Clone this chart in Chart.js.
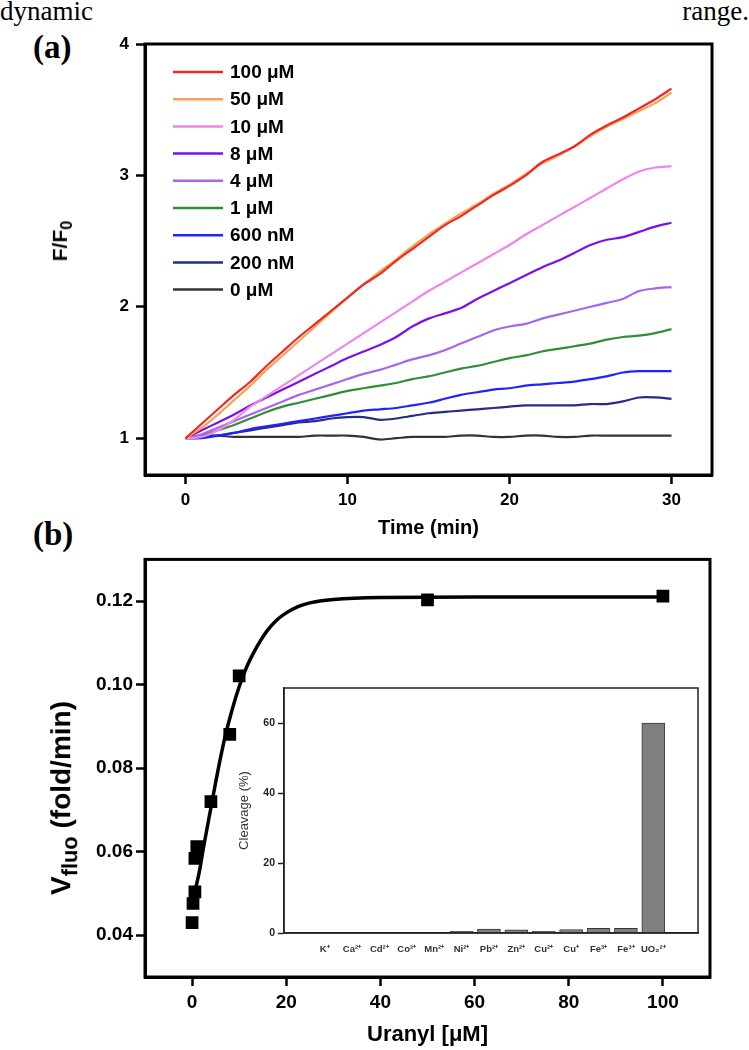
<!DOCTYPE html>
<html>
<head>
<meta charset="utf-8">
<script src="https://cdn.jsdelivr.net/npm/chart.js@4.4.1/dist/chart.umd.min.js"></script>
<style>
  body { margin: 0; background: #fff; width: 749px; height: 1050px; position: relative; overflow: hidden; font-family: Arial, 'Liberation Sans', sans-serif; }
  canvas { position: absolute; }
  #topline { position: absolute; left: 0; top: -4px; width: 749px; display: flex; justify-content: space-between; font: 27px 'Liberation Serif', 'Times New Roman', serif; }
  .panel { position: absolute; font: bold 33px 'Liberation Serif', 'Times New Roman', serif; }
  .ytitle { position: absolute; font-weight: bold; white-space: nowrap; transform: translate(-50%, -50%) rotate(-90deg); }
  .ytitle sub { font-size: 78%; }
</style>
</head>
<body>
<div id="topline"><span>dynamic</span><span>range.</span></div>
<div class="panel" style="left:33px;top:29px">(a)</div>
<div class="panel" style="left:33px;top:516px">(b)</div>

<canvas id="chartA" width="749" height="545" style="left:0;top:0"></canvas>
<canvas id="chartB" width="749" height="505" style="left:0;top:545px"></canvas>
<canvas id="inset" width="510" height="290" style="left:200px;top:675px"></canvas>

<div class="ytitle" style="left:62px;top:241px;font-size:21px">F/F<sub>0</sub></div>
<div class="ytitle" style="left:64px;top:798px;font-size:28px">V<sub>fluo</sub> (fold/min)</div>

<script>
// ---- panel (a): F/F0 vs time ----
const timeMin = [0,1,2,3,4,5,6,7,8,9,10,11,12,13,14,15,16,17,18,19,20,21,22,23,24,25,26,27,28,29,30];
const concLabels = ['100 μM', '50 μM', '10 μM', '8 μM', '4 μM', '1 μM', '600 nM', '200 nM', '0 μM'];
const f100  = [1.00,1.11,1.22,1.33,1.43,1.55,1.66,1.77,1.87,1.97,2.07,2.17,2.25,2.35,2.44,2.53,2.62,2.69,2.77,2.85,2.92,3.00,3.10,3.16,3.22,3.31,3.38,3.44,3.51,3.58,3.66];
const f50   = [1.00,1.08,1.18,1.29,1.40,1.52,1.63,1.74,1.85,1.96,2.07,2.17,2.27,2.36,2.46,2.55,2.63,2.71,2.78,2.86,2.93,3.01,3.09,3.15,3.22,3.30,3.37,3.43,3.49,3.55,3.63];
const f10   = [1.00,1.01,1.06,1.14,1.24,1.32,1.40,1.48,1.56,1.64,1.72,1.80,1.88,1.96,2.04,2.12,2.19,2.26,2.33,2.40,2.47,2.55,2.62,2.69,2.76,2.83,2.90,2.97,3.03,3.06,3.07];
const f8    = [1.00,1.06,1.12,1.18,1.25,1.31,1.37,1.43,1.49,1.55,1.61,1.66,1.71,1.77,1.85,1.91,1.95,1.99,2.06,2.12,2.18,2.24,2.30,2.35,2.41,2.47,2.51,2.53,2.57,2.61,2.64];
const f4    = [1.00,1.03,1.08,1.13,1.18,1.23,1.28,1.33,1.37,1.41,1.45,1.49,1.52,1.56,1.60,1.63,1.67,1.72,1.77,1.82,1.85,1.87,1.91,1.94,1.97,2.00,2.03,2.06,2.12,2.14,2.15];
const f1    = [1.00,1.02,1.06,1.10,1.15,1.20,1.24,1.27,1.30,1.33,1.36,1.38,1.40,1.42,1.45,1.47,1.50,1.53,1.55,1.58,1.61,1.63,1.66,1.68,1.70,1.72,1.75,1.77,1.78,1.80,1.83];
const f600n = [1.00,1.00,1.02,1.04,1.07,1.09,1.11,1.13,1.15,1.17,1.19,1.21,1.22,1.23,1.25,1.27,1.30,1.33,1.35,1.37,1.38,1.40,1.41,1.42,1.43,1.45,1.47,1.50,1.51,1.51,1.51];
const f200n = [1.00,1.01,1.02,1.04,1.06,1.08,1.10,1.12,1.13,1.15,1.16,1.16,1.14,1.15,1.17,1.19,1.20,1.21,1.22,1.23,1.24,1.25,1.25,1.25,1.25,1.26,1.26,1.28,1.31,1.31,1.30];
const f0    = [1.00,1.02,1.02,1.01,1.01,1.01,1.01,1.01,1.02,1.02,1.02,1.01,0.99,1.00,1.01,1.01,1.01,1.02,1.02,1.01,1.01,1.02,1.02,1.01,1.01,1.02,1.02,1.02,1.02,1.02,1.02];
const timeTicks = [0, 10, 20, 30];
const ratioTicks = [1, 2, 3, 4];

// ---- panel (b): initial rate vs uranyl ----
const uranylConc = [0, 0.2, 0.6, 0.6, 1, 4, 8, 10, 50, 100];
const vFluo      = [0.043, 0.0476, 0.0504, 0.0584, 0.0612, 0.072, 0.0881, 0.1021, 0.1203, 0.1212];
const fitConc = [0.6, 1.5, 2.5, 4, 5.5, 7, 8.5, 10, 11.5, 13, 14.5, 16, 18, 20, 22.5, 25, 30, 40, 60, 100];
const fitV    = [0.0505, 0.055, 0.0615, 0.0705, 0.0795, 0.0875, 0.094, 0.0995, 0.104, 0.1075, 0.1105, 0.113, 0.1155, 0.1172, 0.1187, 0.1196, 0.1204, 0.1209, 0.121, 0.121];
const uranylTicks = [0, 20, 40, 60, 80, 100];
const vTicks = [0.04, 0.06, 0.08, 0.10, 0.12];

// ---- inset: selectivity ----
const ions = ['K⁺', 'Ca²⁺', 'Cd²⁺', 'Co²⁺', 'Mn²⁺', 'Ni²⁺', 'Pb²⁺', 'Zn²⁺', 'Cu²⁺', 'Cu⁺', 'Fe³⁺', 'Fe³⁺', 'UO₂²⁺'];
const cleavage = [0, 0, 0, 0, 0, 0.5, 1.1, 0.9, 0.5, 1.0, 1.3, 1.3, 60];
const cleavageTicks = [0, 20, 40, 60];

Chart.defaults.font.family = "Arial, 'Liberation Sans', sans-serif";
Chart.defaults.color = '#000';

const frame = {
  id: 'frame',
  afterDraw(chart, args, opts) {
    const { ctx, chartArea: a } = chart;
    ctx.save();
    ctx.strokeStyle = opts.color;
    ctx.lineWidth = opts.width;
    ctx.strokeRect(a.left, a.top, a.right - a.left, a.bottom - a.top);
    ctx.restore();
  }
};

const lineLegend = {
  id: 'lineLegend',
  afterDatasetsDraw(chart, args, o) {
    const { ctx, chartArea: a } = chart;
    ctx.save();
    ctx.font = o.font;
    ctx.textBaseline = 'middle';
    chart.data.datasets.forEach((ds, i) => {
      const y = a.top + o.top + i * o.gap;
      ctx.strokeStyle = ds.borderColor;
      ctx.lineWidth = 2.5;
      ctx.beginPath();
      ctx.moveTo(a.left + o.x0, y);
      ctx.lineTo(a.left + o.x1, y);
      ctx.stroke();
      ctx.fillStyle = '#000';
      ctx.fillText(ds.label, a.left + o.textX, y + 1);
    });
    ctx.restore();
  }
};

function fixedTicks(list) {
  return scale => { scale.ticks = list.map(v => ({ value: v })); };
}

const axisGrid = { display: true, drawOnChartArea: false, drawTicks: true, tickLength: 9, tickWidth: 2.5, tickColor: '#000' };
const axisBorder = { display: true, width: 3, color: '#000' };

// panel (a)
const seriesA = [f100, f50, f10, f8, f4, f1, f600n, f200n, f0];
const colorsA = ['#ee2a24', '#f5a55a', '#f084ee', '#7a10f0', '#a865ee', '#2f8f35', '#2222ff', '#262c86', '#333333'];

new Chart(document.getElementById('chartA'), {
  type: 'line',
  data: {
    datasets: seriesA.map((s, i) => ({
      label: concLabels[i],
      data: timeMin.map((t, j) => ({ x: t, y: s[j] })),
      borderColor: colorsA[i],
      borderWidth: 2.2,
      pointRadius: 0,
      tension: 0.3,
      fill: false
    }))
  },
  options: {
    responsive: false,
    animation: false,
    layout: { padding: { left: 0, top: 44, right: 37, bottom: 0 } },
    plugins: {
      legend: { display: false },
      tooltip: { enabled: false },
      frame: { color: '#000', width: 3 },
      lineLegend: { font: "bold 19px Arial, 'Liberation Sans', sans-serif", top: 28, gap: 27.2, x0: 28, x1: 78, textX: 85 }
    },
    scales: {
      x: {
        type: 'linear', min: -2.5, max: 32.5,
        afterBuildTicks: fixedTicks(timeTicks),
        afterFit: s => { s.height = 70; },
        grid: axisGrid, border: axisBorder,
        ticks: { font: { size: 17, weight: 'bold' }, padding: 6 },
        title: { display: true, text: 'Time (min)', font: { size: 20, weight: 'bold' }, padding: { top: 0, bottom: 5 } }
      },
      y: {
        type: 'linear', min: 0.72, max: 4,
        afterBuildTicks: fixedTicks(ratioTicks),
        afterFit: s => { s.width = 145; },
        grid: axisGrid, border: axisBorder,
        ticks: { font: { size: 17, weight: 'bold' }, padding: 7 }
      }
    }
  },
  plugins: [frame, lineLegend]
});

// panel (b)
new Chart(document.getElementById('chartB'), {
  type: 'scatter',
  data: {
    datasets: [
      {
        label: 'Vfluo',
        data: uranylConc.map((c, i) => ({ x: c, y: vFluo[i] })),
        pointStyle: 'rect',
        pointRadius: 9,
        backgroundColor: '#000',
        borderColor: '#000',
        borderWidth: 0
      },
      {
        label: 'fit',
        data: fitConc.map((c, i) => ({ x: c, y: fitV[i] })),
        showLine: true,
        borderColor: '#000',
        borderWidth: 3.5,
        pointRadius: 0,
        cubicInterpolationMode: 'monotone'
      }
    ]
  },
  options: {
    responsive: false,
    animation: false,
    layout: { padding: { left: 0, top: 14, right: 39, bottom: 0 } },
    plugins: {
      legend: { display: false },
      tooltip: { enabled: false },
      frame: { color: '#000', width: 3 }
    },
    scales: {
      x: {
        type: 'linear', min: -10, max: 110,
        afterBuildTicks: fixedTicks(uranylTicks),
        afterFit: s => { s.height = 73; },
        grid: axisGrid, border: axisBorder,
        ticks: { font: { size: 19, weight: 'bold' }, padding: 5 },
        title: { display: true, text: 'Uranyl [μM]', font: { size: 22, weight: 'bold' }, padding: { top: 0, bottom: 2 } }
      },
      y: {
        type: 'linear', min: 0.03, max: 0.13,
        afterBuildTicks: fixedTicks(vTicks),
        afterFit: s => { s.width = 145; },
        grid: axisGrid, border: axisBorder,
        ticks: { font: { size: 19, weight: 'bold' }, padding: 3, callback: v => v.toFixed(2) }
      }
    }
  },
  plugins: [frame]
});

// inset
new Chart(document.getElementById('inset'), {
  type: 'bar',
  data: {
    datasets: [{
      label: 'Cleavage',
      data: ions.map((n, i) => ({ x: i, y: cleavage[i] })),
      backgroundColor: '#7f7f7f',
      borderColor: '#3a3a3a',
      borderWidth: 1,
      barThickness: 23
    }]
  },
  options: {
    responsive: false,
    animation: false,
    layout: { padding: { left: 0, top: 13, right: 12, bottom: 0 } },
    plugins: {
      legend: { display: false },
      tooltip: { enabled: false },
      frame: { color: '#222', width: 1.5 }
    },
    scales: {
      x: {
        type: 'linear', min: -0.9, max: 13.05,
        afterBuildTicks: fixedTicks(ions.map((n, i) => i)),
        afterFit: s => { s.height = 32; },
        grid: { display: false },
        border: { display: true, width: 1.5, color: '#222' },
        ticks: { font: { size: 9.5, weight: 'bold' }, color: '#333', padding: 3, autoSkip: false, maxRotation: 0, callback: v => ions[v] }
      },
      y: {
        type: 'linear', min: 0, max: 70,
        afterBuildTicks: fixedTicks(cleavageTicks),
        afterFit: s => { s.width = 84; },
        grid: { display: true, drawOnChartArea: false, drawTicks: true, tickLength: 6, tickWidth: 1.5, tickColor: '#222' },
        border: { display: true, width: 1.5, color: '#222' },
        ticks: { font: { size: 10.5, weight: 'bold' }, color: '#222', padding: 3 },
        title: { display: true, text: 'Cleavage (%)', font: { size: 13 }, color: '#333', padding: { top: 37, bottom: 0 } }
      }
    }
  },
  plugins: [frame]
});
</script>
</body>
</html>
